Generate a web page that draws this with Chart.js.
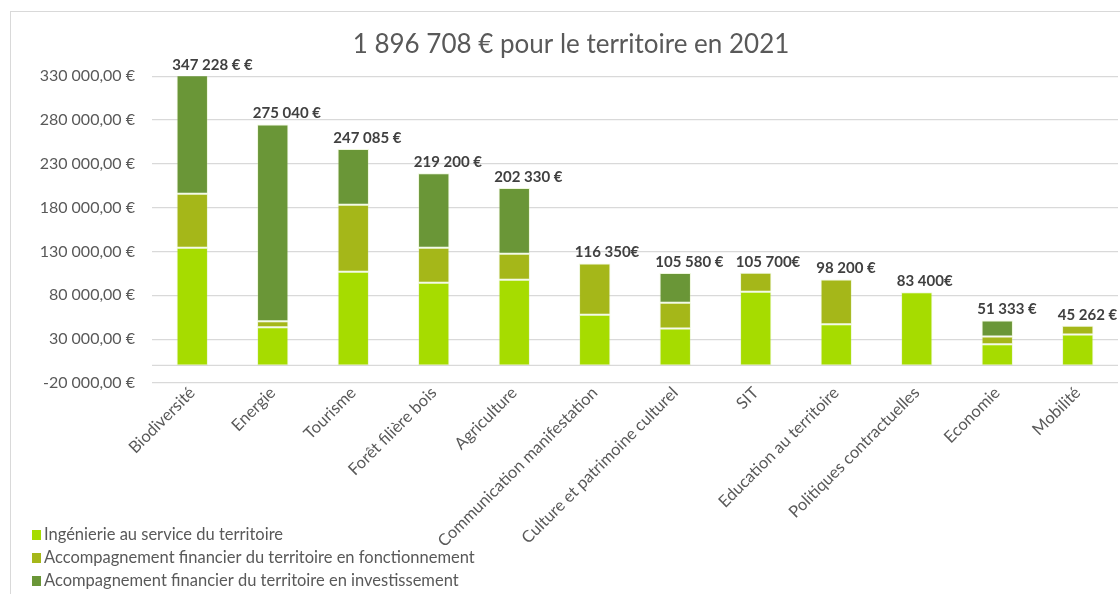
<!DOCTYPE html>
<html>
<head>
<meta charset="utf-8">
<script src="https://cdn.jsdelivr.net/npm/chart.js@4"></script>
<style>
  html, body { margin: 0; padding: 0; background: #fff; overflow: hidden; }
  #wrap { position: relative; width: 1120px; height: 594px; }
  #frame { position: absolute; left: 10px; top: 11px; width: 1200px; height: 700px; border: 1px solid #d9d9d9; }
  canvas { position: absolute; left: 0; top: 0; }
</style>
</head>
<body>
<div id="wrap">
  <div id="frame"></div>
  <canvas id="budgetChart" width="1120" height="594"></canvas>
</div>
<script>
const categories = ['Biodiversité', 'Energie', 'Tourisme', 'Forêt filière bois', 'Agriculture',
  'Communication manifestation', 'Culture et patrimoine culturel', 'SIT', 'Education au territoire',
  'Politiques contractuelles', 'Economie', 'Mobilité'];
const ingenierie = [134300, 43700, 106900, 94300, 97700, 57800, 42200, 84000, 47100, 83400, 24300, 35400];
const fonctionnement = [61600, 6800, 76400, 40000, 29700, 58550, 29300, 21700, 51100, null, 8800, 9862];
const investissement = [151328, 224540, 63785, 84900, 74930, null, 34080, null, null, null, 18233, null];
const totalLabels = ['347 228 € €', '275 040 €', '247 085 €', '219 200 €', '202 330 €', '116 350€',
  '105 580 €', '105 700€', '98 200 €', '83 400€', '51 333 €', '45 262 €'];
const seriesNames = ['Ingénierie au service du territoire',
  'Accompagnement financier du territoire en fonctionnement',
  'Acompagnement financier du territoire en investissement'];
const couleurs = ['#a6dc00', '#a5b719', '#6a9637'];

const police = 'Lato, "Open Sans", sans-serif';

function formatEuro(v) {
  let neg = v < 0;
  let s = Math.abs(v).toFixed(2).split('.');
  let ent = s[0].replace(/\B(?=(\d{3})+(?!\d))/g, ' ');
  return (neg ? '-' : '') + ent + ',' + s[1] + ' €';
}

// ligne du zéro + étiquettes des totaux + légende à gauche en bas
const extras = {
  id: 'extras',
  beforeDatasetsDraw(chart) {
    const ctx = chart.ctx;
    const y0 = chart.scales.y.getPixelForValue(0);
    ctx.save();
    ctx.strokeStyle = '#d9d9d9';
    ctx.lineWidth = 1.3;
    ctx.beginPath();
    ctx.moveTo(chart.chartArea.left, y0);
    ctx.lineTo(chart.chartArea.right, y0);
    ctx.stroke();
    ctx.restore();
  },
  afterDraw(chart) {
    const ctx = chart.ctx;
    ctx.save();
    ctx.font = 'bold 15px ' + police;
    ctx.fillStyle = '#404040';
    ctx.textAlign = 'left';
    ctx.textBaseline = 'middle';
    categories.forEach((c, i) => {
      let top = Infinity, x = 0;
      chart.data.datasets.forEach((ds, d) => {
        const el = chart.getDatasetMeta(d).data[i];
        if (ds.data[i] != null) { top = Math.min(top, el.y); x = el.x; }
      });
      top = Math.max(top, chart.chartArea.top);
      ctx.fillText(totalLabels[i], x - 20, top - 11);
    });

    ctx.font = '16.5px ' + police;
    chart.data.datasets.forEach((ds, d) => {
      const y = 535 + d * 23;
      ctx.fillStyle = ds.backgroundColor;
      ctx.fillRect(32, y - 5, 9, 10);
      ctx.fillStyle = '#595959';
      ctx.fillText(ds.label, 44, y);
    });
    ctx.restore();
  }
};

const ctx = document.getElementById('budgetChart').getContext('2d');
const chart = new Chart(ctx, {
  type: 'bar',
  data: {
    labels: categories,
    datasets: [
      { label: seriesNames[0], data: ingenierie, backgroundColor: couleurs[0] },
      { label: seriesNames[1], data: fonctionnement, backgroundColor: couleurs[1] },
      { label: seriesNames[2], data: investissement, backgroundColor: couleurs[2] }
    ]
  },
  options: {
    responsive: false,
    animation: false,
    layout: { padding: { left: 24, right: 2, top: 0, bottom: 0 } },
    datasets: {
      bar: {
        categoryPercentage: 1,
        barPercentage: 0.39,
        borderWidth: 1,
        borderColor: 'rgba(200,230,140,0.3)',
        borderSkipped: false
      }
    },
    plugins: {
      legend: { display: false },
      tooltip: { enabled: false },
      title: {
        display: true,
        text: '1 896 708 € pour le territoire en 2021',
        color: '#595959',
        font: { family: police, size: 26, weight: 'normal' },
        padding: { top: 29, bottom: 16 }
      }
    },
    scales: {
      x: {
        stacked: true,
        grid: { display: false },
        border: { display: false },
        ticks: {
          color: '#595959',
          font: { family: police, size: 16.5 },
          minRotation: 45,
          maxRotation: 45,
          padding: -8,
          autoSkip: false
        },
        afterFit(scale) { scale.height = 211; }
      },
      y: {
        stacked: true,
        min: -20000,
        max: 330000,
        grid: { color: '#d9d9d9', lineWidth: 1.3, drawTicks: false },
        border: { display: false },
        ticks: {
          stepSize: 50000,
          color: '#595959',
          font: { family: police, size: 16 },
          padding: 17,
          callback: (v) => formatEuro(v)
        },
        afterFit(scale) { scale.width = 128; }
      }
    }
  },
  plugins: [extras]
});
</script>
</body>
</html>
